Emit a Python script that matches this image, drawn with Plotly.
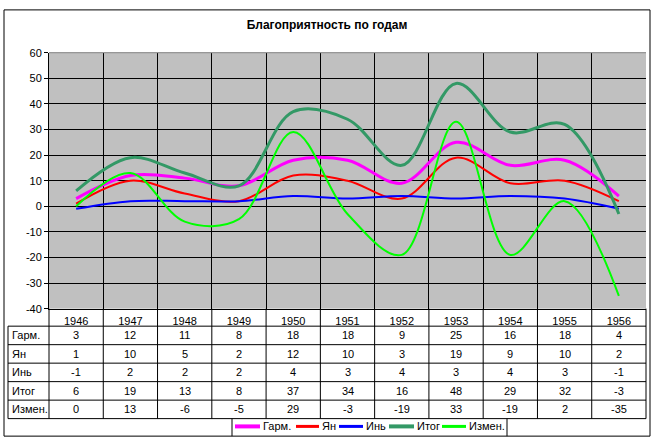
import plotly.graph_objects as go

# ---- data ----
years = ['1946', '1947', '1948', '1949', '1950', '1951', '1952', '1953', '1954', '1955', '1956']
series_names = ['Гарм.', 'Ян', 'Инь', 'Итог', 'Измен.']
garm = [3, 12, 11, 8, 18, 18, 9, 25, 16, 18, 4]
yan = [1, 10, 5, 2, 12, 10, 3, 19, 9, 10, 2]
yin = [-1, 2, 2, 2, 4, 3, 4, 3, 4, 3, -1]
itog = [6, 19, 13, 8, 37, 34, 16, 48, 29, 32, -3]
izmen = [0, 13, -6, -5, 29, -3, -19, 33, -19, 2, -35]
y_ticks = [-40, -30, -20, -10, 0, 10, 20, 30, 40, 50, 60]
title_text = 'Благоприятность по годам'

series_values = [garm, yan, yin, itog, izmen]
colors = ['#FF00FF', '#FF0000', '#0000FF', '#339966', '#00FF00']
widths = [3, 2, 2, 3, 2]

W, H = 655, 447
FONT = 'Arial, Liberation Sans, sans-serif'


def px(x):
    return x / W


def py(y):
    return 1 - y / H


# plot area (pixels)
PL, PR, PT, PB = 49, 646, 48, 311
ROW_TOP = 329
ROW_H = 19

fig = go.Figure()
for name, vals, c, w in zip(series_names, series_values, colors, widths):
    fig.add_trace(go.Scatter(
        x=years, y=vals, name=name, mode='lines',
        line=dict(color=c, width=w, shape='spline', smoothing=1),
        showlegend=False,
    ))

shapes = []
annotations = []

# table: horizontal lines
for k in range(len(series_names) + 1):
    yy = ROW_TOP + k * ROW_H
    shapes.append(dict(type='line', xref='paper', yref='paper',
                       x0=px(8), x1=px(PR), y0=py(yy), y1=py(yy),
                       line=dict(color='black', width=1)))
# table: left label column border
shapes.append(dict(type='line', xref='paper', yref='paper',
                   x0=px(8), x1=px(8), y0=py(ROW_TOP),
                   y1=py(ROW_TOP + len(series_names) * ROW_H),
                   line=dict(color='black', width=1)))
# table: vertical lines at category boundaries
n = len(years)
for k in range(n + 1):
    shapes.append(dict(type='line', xref='x domain', yref='paper',
                       x0=k / n, x1=k / n, y0=py(PB),
                       y1=py(ROW_TOP + len(series_names) * ROW_H),
                       line=dict(color='black', width=1)))

# table cells
for r, (name, vals) in enumerate(zip(series_names, series_values)):
    yc = ROW_TOP + r * ROW_H + ROW_H / 2
    annotations.append(dict(xref='paper', yref='paper', x=px(10), y=py(yc),
                            text=name, showarrow=False, xanchor='left',
                            yanchor='middle', font=dict(size=11, color='black', family=FONT)))
    for i, v in enumerate(vals):
        annotations.append(dict(xref='x', yref='paper', x=i, y=py(yc),
                                text=str(v), showarrow=False, xanchor='center',
                                yanchor='middle', font=dict(size=11, color='black', family=FONT)))

# plot area gray border (top)
shapes.append(dict(type='line', xref='paper', yref='paper', x0=px(PL), x1=px(PR),
                   y0=py(PT), y1=py(PT), line=dict(color='#808080', width=1), layer='above'))

# outer chart border
shapes.append(dict(type='rect', xref='paper', yref='paper', x0=px(4), x1=px(650),
                   y0=py(4), y1=py(442), line=dict(color='black', width=1)))

# legend box and entries (custom, Excel style)
LEG_L, LEG_R, LEG_T, LEG_B = 232, 507, 424, 442
for xx in (LEG_L, LEG_R):
    shapes.append(dict(type='line', xref='paper', yref='paper', x0=px(xx), x1=px(xx),
                       y0=py(LEG_T), y1=py(LEG_B), line=dict(color='black', width=1)))
leg_line_x = [(235, 260), (296, 319), (339, 363), (389, 414), (442, 466)]
leg_y = 432
for (x0, x1), name, c, w in zip(leg_line_x, series_names, colors, widths):
    shapes.append(dict(type='line', xref='paper', yref='paper', x0=px(x0), x1=px(x1),
                       y0=py(leg_y), y1=py(leg_y), line=dict(color=c, width=w + 1)))
    annotations.append(dict(xref='paper', yref='paper', x=px(x1 + 1), y=py(leg_y),
                            text=name, showarrow=False, xanchor='left', yanchor='middle',
                            font=dict(size=11, color='black', family=FONT)))

fig.update_layout(
    width=W, height=H,
    margin=dict(l=0, r=0, t=0, b=0),
    paper_bgcolor='white',
    plot_bgcolor='#C0C0C0',
    title=dict(text='<b>' + title_text + '</b>', x=px(327), y=py(25),
               xanchor='center', yanchor='middle',
               font=dict(size=12, color='black', family=FONT)),
    xaxis=dict(
        type='category', categoryorder='array', categoryarray=years,
        range=[-0.5, len(years) - 0.5], autorange=False,
        domain=[px(PL), px(PR)],
        tickson='boundaries', showgrid=True, gridcolor='black', gridwidth=1,
        ticks='', showline=True, linecolor='black', linewidth=1,
        tickangle=0, ticklabelstandoff=2,
        tickfont=dict(size=11, color='black', family=FONT),
        fixedrange=True,
    ),
    yaxis=dict(
        range=[-40, 60], autorange=False,
        tickvals=y_ticks, ticktext=[str(v) for v in y_ticks],
        domain=[py(PB), py(PT)],
        showgrid=True, gridcolor='black', gridwidth=1,
        zeroline=False, ticks='outside', ticklen=4, tickcolor='black',
        showline=True, linecolor='black', linewidth=1,
        tickfont=dict(size=11, color='black', family=FONT),
        fixedrange=True,
    ),
    shapes=shapes,
    annotations=annotations,
    showlegend=False,
)

fig.write_html(
    'out.html',
    config={'displayModeBar': False, 'staticPlot': True},
    post_script="document.body.style.margin='0';document.body.style.overflow='hidden';",
)
